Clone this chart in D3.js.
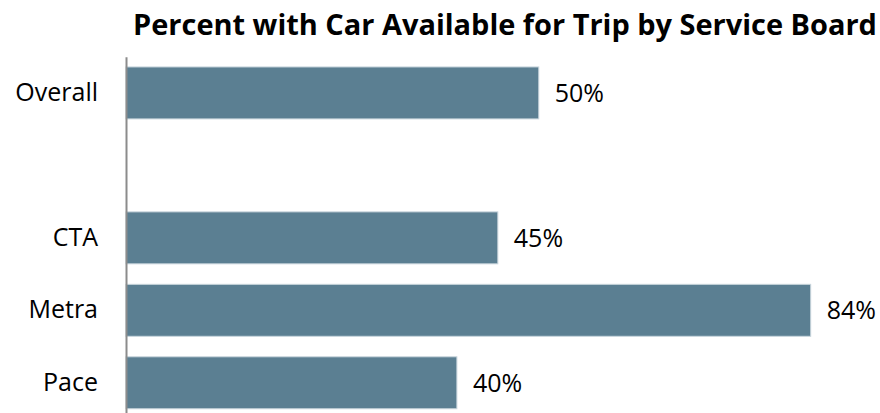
<!DOCTYPE html>
<html>
<head>
<meta charset="utf-8">
<script src="https://cdn.jsdelivr.net/npm/d3@7"></script>
<style>
  body { margin: 0; background: #fff; }
  svg text { font-family: "Open Sans", Lato, sans-serif; fill: #000; }
</style>
</head>
<body>
<div id="chart"></div>
<script>
// chart values (percent), blank row between Overall and the boards
const categories = ["Overall", "", "CTA", "Metra", "Pace"];
const percents = [50.4, null, 45.4, 83.6, 40.4];
const titleText = "Percent with Car Available for Trip by Service Board";

const width = 880, height = 413;

const svg = d3.select("#chart").append("svg")
    .attr("width", width)
    .attr("height", height);

const rows = categories.map((c, i) => ({ key: "r" + i, label: c, value: percents[i] }));

const x = d3.scaleLinear()
    .domain([0, 100])
    .range([126, 945]);

const y = d3.scaleBand()
    .domain(rows.map(d => d.key))
    .range([56.7, 419])
    .paddingInner(0.283)
    .paddingOuter(0.1415);

// bars
svg.selectAll(".bar")
    .data(rows.filter(d => d.value != null))
    .enter()
    .append("rect")
    .attr("class", "bar")
    .attr("x", x(0))
    .attr("y", d => y(d.key))
    .attr("width", d => x(d.value) - x(0))
    .attr("height", y.bandwidth())
    .attr("fill", "#5b7f92")
    .attr("stroke", "#c8d5dc")
    .attr("stroke-width", 1);

// value labels
svg.selectAll(".bar-label")
    .data(rows.filter(d => d.value != null))
    .enter()
    .append("text")
    .attr("class", "bar-label")
    .attr("x", d => x(d.value) + 16)
    .attr("y", d => y(d.key) + y.bandwidth() / 2)
    .attr("dy", ".36em")
    .style("font-size", "25px")
    .text(d => Math.round(d.value) + "%");

// category axis
const yAxis = d3.axisLeft(y)
    .tickSize(0)
    .tickPadding(28)
    .tickFormat(k => rows.find(r => r.key === k).label);

const gy = svg.append("g")
    .attr("class", "y-axis")
    .attr("transform", "translate(" + x(0) + ",0)")
    .call(yAxis);

gy.select(".domain")
    .attr("stroke", "#8c8c8c")
    .attr("stroke-width", 2);

gy.selectAll("text")
    .style("font-size", "25px")
    .style("font-family", "'Open Sans', Lato, sans-serif")
    .attr("fill", "#000");

// title, sized so it spans the same width as the original
const title = svg.append("text")
    .attr("x", 505)
    .attr("y", 35)
    .attr("text-anchor", "middle")
    .style("font-family", "'Open Sans', Lato, sans-serif")
    .style("font-size", "26px")
    .style("font-weight", "bold")
    .text(titleText);

let tw = title.node().getComputedTextLength();
title.style("font-size", (26 * 744 / tw).toFixed(2) + "px");
</script>
</body>
</html>
